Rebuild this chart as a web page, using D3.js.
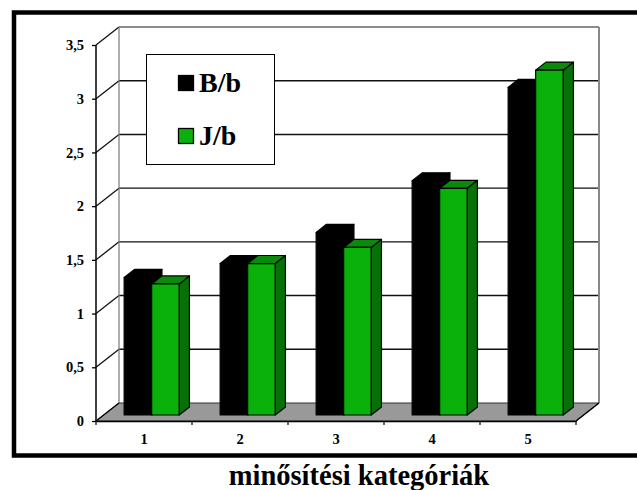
<!DOCTYPE html>
<html>
<head>
<meta charset="utf-8">
<script src="https://cdn.jsdelivr.net/npm/d3@7"></script>
<style>
  html, body { margin: 0; padding: 0; background: #fff; }
  svg { display: block; }
</style>
</head>
<body>
<svg id="chart" width="637" height="490"></svg>
<script>
// Categories and series values
const categories = ["1", "2", "3", "4", "5"];
const seriesNames = ["B/b", "J/b"];
const valuesB = [1.28, 1.41, 1.70, 2.18, 3.05];
const valuesJ = [1.22, 1.41, 1.56, 2.11, 3.21];
const yTicks = [0, 0.5, 1, 1.5, 2, 2.5, 3, 3.5];
const yTickLabels = ["0", "0,5", "1", "1,5", "2", "2,5", "3", "3,5"];
const axisTitle = "minősítési kategóriák";

const SERIF = "Liberation Serif, Tinos, DejaVu Serif, Times New Roman, serif";

const svg = d3.select("#chart");

// Oblique projection: depth 0 = front plane, depth 1 = back wall
const DX = 23, DY = -18;
const x = d3.scaleBand().domain(categories).range([96, 576]);
const y = d3.scaleLinear().domain([0, 3.5]).range([421, 45]);
const xs = d3.scaleBand().domain(seriesNames).range([0, x.bandwidth()]).paddingOuter(0.745);
const P = (px, v, d) => [px + d * DX, y(v) + d * DY];
const poly = pts => pts.map(p => p.join(",")).join(" ");

const x0 = x.range()[0], x1 = x.range()[1];

// Back wall
svg.append("polygon")
  .attr("points", poly([P(x0, 0, 1), P(x1, 0, 1), P(x1, 3.5, 1), P(x0, 3.5, 1)]))
  .attr("fill", "#fff").attr("stroke", "none");

// Gridlines on back wall and oblique lines to the front axis
yTicks.forEach(v => {
  if (v > 0 && v < 3.5) {
    const a = P(x0, v, 1), b = P(x1, v, 1);
    svg.append("line").attr("x1", a[0]).attr("y1", a[1]).attr("x2", b[0]).attr("y2", b[1])
      .attr("stroke", "#111").attr("stroke-width", 1.4);
  }
  if (v > 0) {
    const f = P(x0, v, 0), b = P(x0, v, 1);
    svg.append("line").attr("x1", f[0]).attr("y1", f[1]).attr("x2", b[0]).attr("y2", b[1])
      .attr("stroke", "#111").attr("stroke-width", 1.3);
  }
});
// Back wall edges
{
  const tl = P(x0, 3.5, 1), tr = P(x1, 3.5, 1), br = P(x1, 0, 1), bl = P(x0, 0, 1);
  svg.append("line").attr("x1", tl[0]).attr("y1", tl[1]).attr("x2", tr[0]).attr("y2", tr[1])
    .attr("stroke", "#666").attr("stroke-width", 1.5);
  svg.append("line").attr("x1", tr[0]).attr("y1", tr[1]).attr("x2", br[0]).attr("y2", br[1])
    .attr("stroke", "#888").attr("stroke-width", 2);
  svg.append("line").attr("x1", tl[0]).attr("y1", tl[1]).attr("x2", bl[0]).attr("y2", bl[1])
    .attr("stroke", "#777").attr("stroke-width", 1.2);
}

// Floor
svg.append("polygon")
  .attr("points", poly([P(x0, 0, 0), P(x1, 0, 0), P(x1, 0, 1), P(x0, 0, 1)]))
  .attr("fill", "#999").attr("stroke", "#333").attr("stroke-width", 1);
{
  const a = P(x1, 0, 0), b = P(x1, 0, 1);
  svg.append("line").attr("x1", a[0]).attr("y1", a[1]).attr("x2", b[0]).attr("y2", b[1])
    .attr("stroke", "#000").attr("stroke-width", 1.5);
  const c = P(x0, 0, 0), d = P(x0, 0, 1);
  svg.append("line").attr("x1", c[0]).attr("y1", c[1]).attr("x2", d[0]).attr("y2", d[1])
    .attr("stroke", "#000").attr("stroke-width", 1.3);
}

// 3D bars
const BAR_FRONT = 0.333, BAR_BACK = 0.78;
function drawBar(cat, series, v, colors) {
  const left = x(cat) + xs(series), right = left + xs.bandwidth();
  const g = svg.append("g");
  const f = [P(left, 0, BAR_FRONT), P(right, 0, BAR_FRONT), P(right, v, BAR_FRONT), P(left, v, BAR_FRONT)];
  const side = [P(right, 0, BAR_FRONT), P(right, 0, BAR_BACK), P(right, v, BAR_BACK), P(right, v, BAR_FRONT)];
  const top = [P(left, v, BAR_FRONT), P(right, v, BAR_FRONT), P(right, v, BAR_BACK), P(left, v, BAR_BACK)];
  g.append("polygon").attr("points", poly(side)).attr("fill", colors.side)
    .attr("stroke", "#000").attr("stroke-width", 1.2).attr("stroke-linejoin", "round");
  g.append("polygon").attr("points", poly(top)).attr("fill", colors.top)
    .attr("stroke", "#000").attr("stroke-width", 1.2).attr("stroke-linejoin", "round");
  g.append("polygon").attr("points", poly(f)).attr("fill", colors.front)
    .attr("stroke", "#000").attr("stroke-width", 1.2).attr("stroke-linejoin", "round");
}
const blackFaces = { front: "#000", side: "#000", top: "#000" };
const greenFaces = { front: "#0bb10b", side: "#077007", top: "#0a8a0a" };
categories.forEach((c, i) => {
  drawBar(c, seriesNames[0], valuesB[i], blackFaces);
  drawBar(c, seriesNames[1], valuesJ[i], greenFaces);
});

// Value axis (front)
svg.append("line").attr("x1", x0).attr("y1", y(0)).attr("x2", x0).attr("y2", y(3.5))
  .attr("stroke", "#000").attr("stroke-width", 1.5);
const yAxis = d3.axisLeft(y).tickValues(yTicks)
  .tickFormat((d, i) => yTickLabels[i]).tickSize(4).tickPadding(8);
const yg = svg.append("g").attr("transform", `translate(${x0},0)`).call(yAxis)
  .attr("font-family", SERIF).attr("font-size", 14.5).attr("font-weight", "bold");
yg.select(".domain").remove();
yg.selectAll(".tick line").attr("stroke", "#000").attr("stroke-width", 1.3);
yg.selectAll(".tick text").attr("fill", "#000");

// Category axis (front edge of floor)
const xAxis = d3.axisBottom(x).tickSize(0).tickPadding(13);
const xg = svg.append("g").attr("transform", `translate(0,${y(0)})`).call(xAxis)
  .attr("font-family", SERIF).attr("font-size", 14.5).attr("font-weight", "bold");
xg.select(".domain").attr("stroke", "#000").attr("stroke-width", 1.5);
xg.selectAll(".tick text").attr("fill", "#000");
// category boundary ticks
categories.concat(["end"]).forEach((c, i) => {
  const px = i < categories.length ? x(c) : x1;
  svg.append("line").attr("x1", px).attr("y1", y(0)).attr("x2", px).attr("y2", y(0) + 4)
    .attr("stroke", "#000").attr("stroke-width", 1.2);
});

// Legend
const lg = svg.append("g");
lg.append("rect").attr("x", 146.5).attr("y", 54.5).attr("width", 128).attr("height", 110)
  .attr("fill", "#fff").attr("stroke", "#000").attr("stroke-width", 1);
const legendColors = ["#000", "#0bb10b"];
seriesNames.forEach((s, i) => {
  const yy = 75 + i * 53;
  lg.append("rect").attr("x", 178.5).attr("y", yy + 0.5).attr("width", 15).attr("height", 15)
    .attr("fill", legendColors[i]).attr("stroke", "#000").attr("stroke-width", 1.3);
  lg.append("text").attr("x", 199).attr("y", yy + 17)
    .attr("font-family", SERIF).attr("font-weight", "bold").attr("font-size", 28)
    .attr("fill", "#000").text(s);
});

// Outer frame
svg.append("rect").attr("x", 14).attr("y", 12.5).attr("width", 700).attr("height", 443)
  .attr("fill", "none").attr("stroke", "#000").attr("stroke-width", 4.5);

// Axis title
svg.append("text").attr("x", 359).attr("y", 485).attr("text-anchor", "middle")
  .attr("font-family", SERIF).attr("font-weight", "bold").attr("font-size", 28.5)
  .attr("fill", "#000").text(axisTitle);
</script>
</body>
</html>
